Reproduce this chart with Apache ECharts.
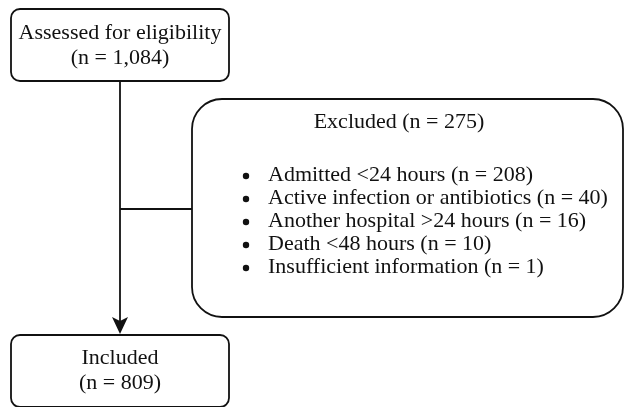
<!DOCTYPE html>
<html>
<head>
<meta charset="utf-8">
<script src="https://cdn.jsdelivr.net/npm/echarts@6/dist/echarts.min.js"></script>
<style>
  html, body { margin: 0; padding: 0; background: #fff; }
  #chart { width: 625px; height: 407px; }
</style>
</head>
<body>
<div id="chart"></div>
<script>
// flow stages and counts
const stageLabels = ['Assessed for eligibility', 'Included'];
const stageCounts = ['1,084', '809'];
const excludedLabel = 'Excluded';
const excludedCount = '275';
const reasonLabels = [
  'Admitted <24 hours',
  'Active infection or antibiotics',
  'Another hospital >24 hours',
  'Death <48 hours',
  'Insufficient information',
];
const reasonCounts = [208, 40, 16, 10, 1];

const FONT = '"Liberation Serif", "Times New Roman", serif';
const INK = '#111';

const myChart = echarts.init(document.getElementById('chart'), null, { renderer: 'canvas' });

const textStyle = {
  fontFamily: FONT,
  fontSize: 22,
  fill: INK,
};

const elements = [];

// top box
elements.push({
  type: 'rect',
  shape: { x: 11, y: 9, width: 218, height: 72, r: 9 },
  style: { fill: '#fff', stroke: INK, lineWidth: 1.8 },
});
elements.push({
  type: 'text',
  x: 120,
  y: 33,
  style: { ...textStyle, text: stageLabels[0], align: 'center', verticalAlign: 'middle' },
});
elements.push({
  type: 'text',
  x: 120,
  y: 58,
  style: { ...textStyle, text: `(n = ${stageCounts[0]})`, align: 'center', verticalAlign: 'middle' },
});

// vertical connector + arrow
elements.push({
  type: 'line',
  shape: { x1: 120, y1: 81, x2: 120, y2: 324 },
  style: { stroke: INK, lineWidth: 1.8 },
});
elements.push({
  type: 'polygon',
  shape: { points: [[112, 317], [120, 321], [128, 317], [120, 334]] },
  style: { fill: INK },
});

// branch to excluded box
elements.push({
  type: 'line',
  shape: { x1: 120, y1: 209, x2: 192, y2: 209 },
  style: { stroke: INK, lineWidth: 1.8 },
});

// excluded box
elements.push({
  type: 'rect',
  shape: { x: 192, y: 99, width: 431, height: 218, r: 30 },
  style: { fill: '#fff', stroke: INK, lineWidth: 1.8 },
});
elements.push({
  type: 'text',
  x: 399,
  y: 122,
  style: { ...textStyle, text: `${excludedLabel} (n = ${excludedCount})`, align: 'center', verticalAlign: 'middle' },
});
reasonLabels.forEach((label, i) => {
  const y = 175 + i * 23;
  elements.push({
    type: 'circle',
    shape: { cx: 246, cy: y + 1, r: 3.2 },
    style: { fill: INK },
  });
  elements.push({
    type: 'text',
    x: 268,
    y: y,
    style: { ...textStyle, text: `${label} (n = ${reasonCounts[i]})`, align: 'left', verticalAlign: 'middle' },
  });
});

// bottom box
elements.push({
  type: 'rect',
  shape: { x: 11, y: 335, width: 218, height: 72, r: 9 },
  style: { fill: '#fff', stroke: INK, lineWidth: 1.8 },
});
elements.push({
  type: 'text',
  x: 120,
  y: 358,
  style: { ...textStyle, text: stageLabels[1], align: 'center', verticalAlign: 'middle' },
});
elements.push({
  type: 'text',
  x: 120,
  y: 383,
  style: { ...textStyle, text: `(n = ${stageCounts[1]})`, align: 'center', verticalAlign: 'middle' },
});

const option = {
  backgroundColor: '#fff',
  animation: false,
  graphic: { elements },
};

myChart.setOption(option, true);
</script>
</body>
</html>
